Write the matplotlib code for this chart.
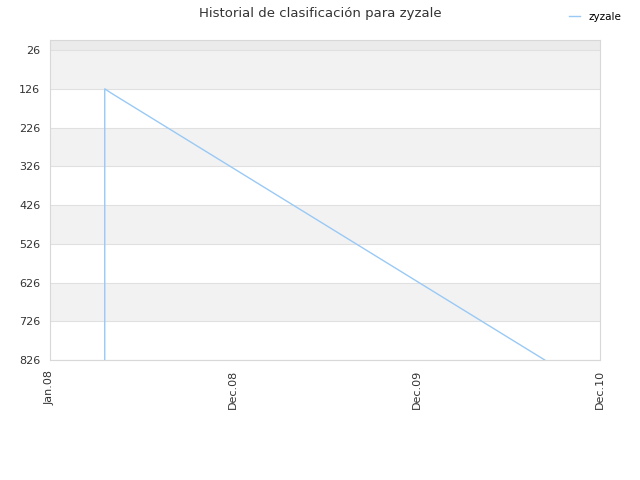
import matplotlib
matplotlib.use('Agg')
import matplotlib.pyplot as plt
import pandas as pd

# ranking history (lower = better)
dates = pd.to_datetime(['2008-04-19', '2008-04-19', '2008-05-03', '2010-09-12'])
ranks = [826, 126, 138, 826]

y_ticks = [26, 126, 226, 326, 426, 526, 626, 726, 826]
x_ticks = pd.to_datetime(['2008-01-01', '2008-12-31', '2009-12-31', '2010-12-31'])
x_labels = ['Jan.08', 'Dec.08', 'Dec.09', 'Dec.10']

fig = plt.figure(figsize=(6.4, 4.8), dpi=100)
ax = fig.add_axes([50 / 640, 120 / 480, 550 / 640, 320 / 480])

# alternating horizontal bands
ax.axhspan(0, 26, color='#ebebeb', lw=0, zorder=0)
for i in range(len(y_ticks) - 1):
    if i % 2 == 0:
        ax.axhspan(y_ticks[i], y_ticks[i + 1], color='#f2f2f2', lw=0, zorder=0)
for t in y_ticks:
    ax.axhline(t, color='#e0e0e0', lw=0.8, zorder=1)

ax.plot(dates, ranks, color='#99c9f5', lw=1.0, label='zyzale', zorder=3)

ax.set_xlim(x_ticks[0], x_ticks[-1])
ax.set_ylim(826, 0)
ax.set_yticks(y_ticks)
ax.set_yticklabels([str(t) for t in y_ticks])
ax.set_xticks(x_ticks)
ax.set_xticklabels(x_labels, rotation=90, ha='center')
ax.tick_params(axis='both', labelsize=8, colors='#333333', length=0, pad=7)
for s in ax.spines.values():
    s.set_color('#d8d8d8')
    s.set_linewidth(0.8)

fig.suptitle('Historial de clasificación para zyzale', x=0.5, y=0.985,
             fontsize=9.5, color='#333333')
fig.legend(loc='upper right', bbox_to_anchor=(0.985, 0.995), frameon=False,
           fontsize=7.5, handlelength=1.0, handletextpad=0.8)

fig.savefig('out.png', dpi=100)
